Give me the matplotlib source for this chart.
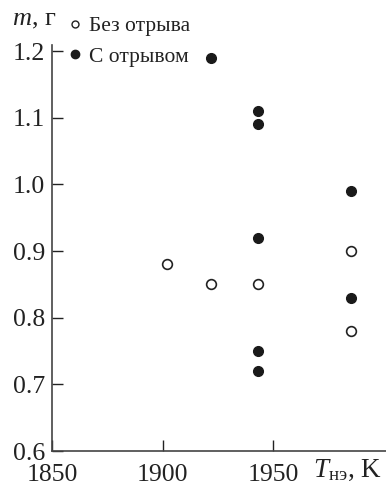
import matplotlib
matplotlib.use("Agg")
import matplotlib.pyplot as plt
from matplotlib.lines import Line2D

plt.rcParams['font.family'] = ['Liberation Serif', 'DejaVu Serif']
plt.rcParams['mathtext.fontset'] = 'custom'
plt.rcParams['mathtext.it'] = 'Liberation Serif:italic'
plt.rcParams['mathtext.rm'] = 'Liberation Serif'

# Data
T_open = [1902, 1922, 1943, 1985, 1985]
m_open = [0.88, 0.85, 0.85, 0.90, 0.78]
T_filled = [1922, 1943, 1943, 1943, 1943, 1943, 1985, 1985]
m_filled = [1.19, 1.11, 1.09, 0.92, 0.75, 0.72, 0.99, 0.83]
xticks = [1850, 1900, 1950]
yticks = [0.6, 0.7, 0.8, 0.9, 1.0, 1.1, 1.2]
label_open = 'Без отрыва'
label_filled = 'С отрывом'

fig = plt.figure(figsize=(3.86, 4.86), dpi=100)
ax = fig.add_axes([52/386, 35/486, 1 - 52/386, (451-45)/486])

ax.plot(T_open, m_open, 'o', ms=7, mfc='white', mec='#222222', mew=1.2, ls='none')
ax.plot(T_filled, m_filled, 'o', ms=7, mfc='#1a1a1a', mec='#1a1a1a', ls='none')

ax.set_xlim(1850, 2001)
ax.set_ylim(0.6, 1.209)
ax.set_xticks(xticks)
ax.set_yticks(yticks)
ax.set_yticklabels([f'{v:.1f}' for v in yticks])
ax.tick_params(direction='in', length=8, width=1, labelsize=18.5, colors='#222222')
ax.tick_params(axis='x', pad=9)
ax.tick_params(axis='y', pad=5)
for s in ['top', 'right']:
    ax.spines[s].set_visible(False)
for s in ['left', 'bottom']:
    ax.spines[s].set_linewidth(1.2)
    ax.spines[s].set_color('#444444')

fig.text(12/386, 1 - 20/486, r'$m$, г', fontsize=19, va='center', ha='left', color='#222222')
fig.text(382/386, 1 - 470/486, r'$T_{\rm нэ}$, K', fontsize=19.5, va='center', ha='right', color='#222222')

handles = [
    Line2D([], [], marker='o', ls='none', ms=5, mfc='white', mec='#222222', mew=1.0),
    Line2D([], [], marker='o', ls='none', ms=6, mfc='#1a1a1a', mec='#1a1a1a'),
]
fig.legend(handles, [label_open, label_filled], loc='upper left',
           bbox_to_anchor=(53/386, 1 - 1/486), frameon=False, fontsize=15.5,
           handlelength=0.6, handletextpad=0.35, labelspacing=0.5, borderpad=0.2,
           labelcolor='#222222')

fig.savefig('out.png', dpi=100)
